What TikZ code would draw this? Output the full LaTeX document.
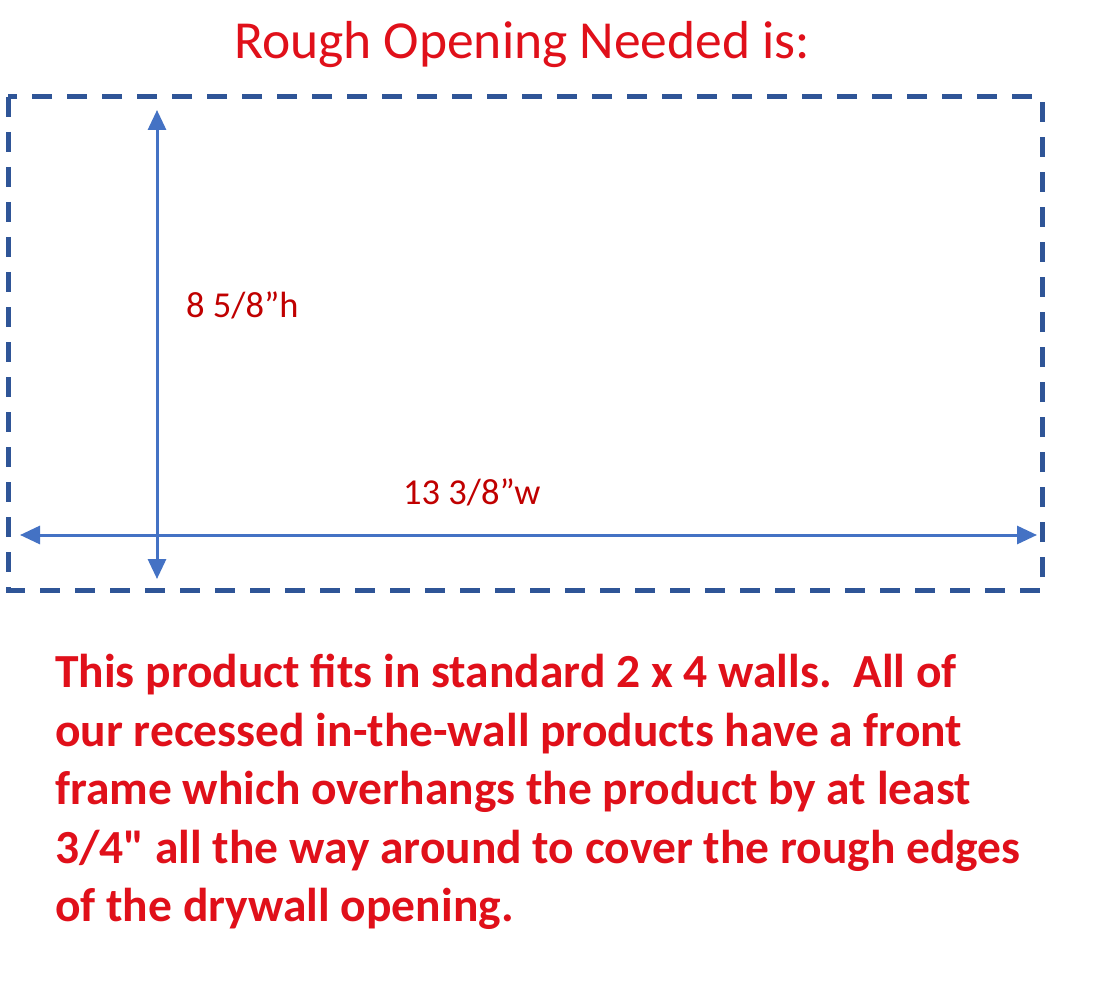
\documentclass[tikz,border=0pt]{standalone}
\usepackage{fontspec}
\setmainfont{Carlito}
\usetikzlibrary{arrows.meta}
\definecolor{frameblue}{HTML}{2F5597}
\definecolor{arrowblue}{HTML}{4472C4}
\definecolor{titlered}{HTML}{E0101A}
\definecolor{labelred}{HTML}{C00000}
\tikzset{
  frame/.style={draw=frameblue, line width=5pt, dash pattern=on 20pt off 15pt},
  dimarrow/.style={draw=arrowblue, line width=3pt, {Triangle[width=18pt,length=20pt]}-{Triangle[width=18pt,length=20pt]}},
  lbl/.style={text=labelred, font=\fontsize{36.5}{42}\selectfont, inner sep=0pt},
}
\begin{document}
\begin{tikzpicture}[x=1pt,y=-1pt]
\useasboundingbox[fill=white] (0,0) rectangle (1117,1003);
\coordinate (tl) at (8,97);
\coordinate (br) at (1042,590);
\draw[frame] (tl) rectangle (br);
\coordinate (vtop) at (157,110);
\coordinate (vbot) at (157,579);
\coordinate (hl) at (20,535);
\coordinate (hr) at (1037,535);
\draw[dimarrow] (hl) -- (hr);
\draw[dimarrow] (vtop) -- (vbot);
\node[anchor=west, text=titlered, font=\fontsize{53.5}{60}\selectfont, inner sep=0pt] (title) at (234,45) {Rough Opening Needed is:};
\node[lbl, anchor=west] (hlabel) at (186,305) {8 5/8”h};
\node[lbl, anchor=west] (wlabel) at (403,492) {13 3/8”w};
\node[anchor=north west, text=titlered, font=\bfseries\fontsize{47.5}{58.5}\selectfont, align=left, inner sep=0pt] (para) at (55,654) {This product fits in standard 2 x 4 walls.\ \ All of\\
our recessed in-the-wall products have a front\\
frame which overhangs the product by at least\\
3/4\textquotedbl{} all the way around to cover the rough edges\\
of the drywall opening.};
\end{tikzpicture}
\end{document}
